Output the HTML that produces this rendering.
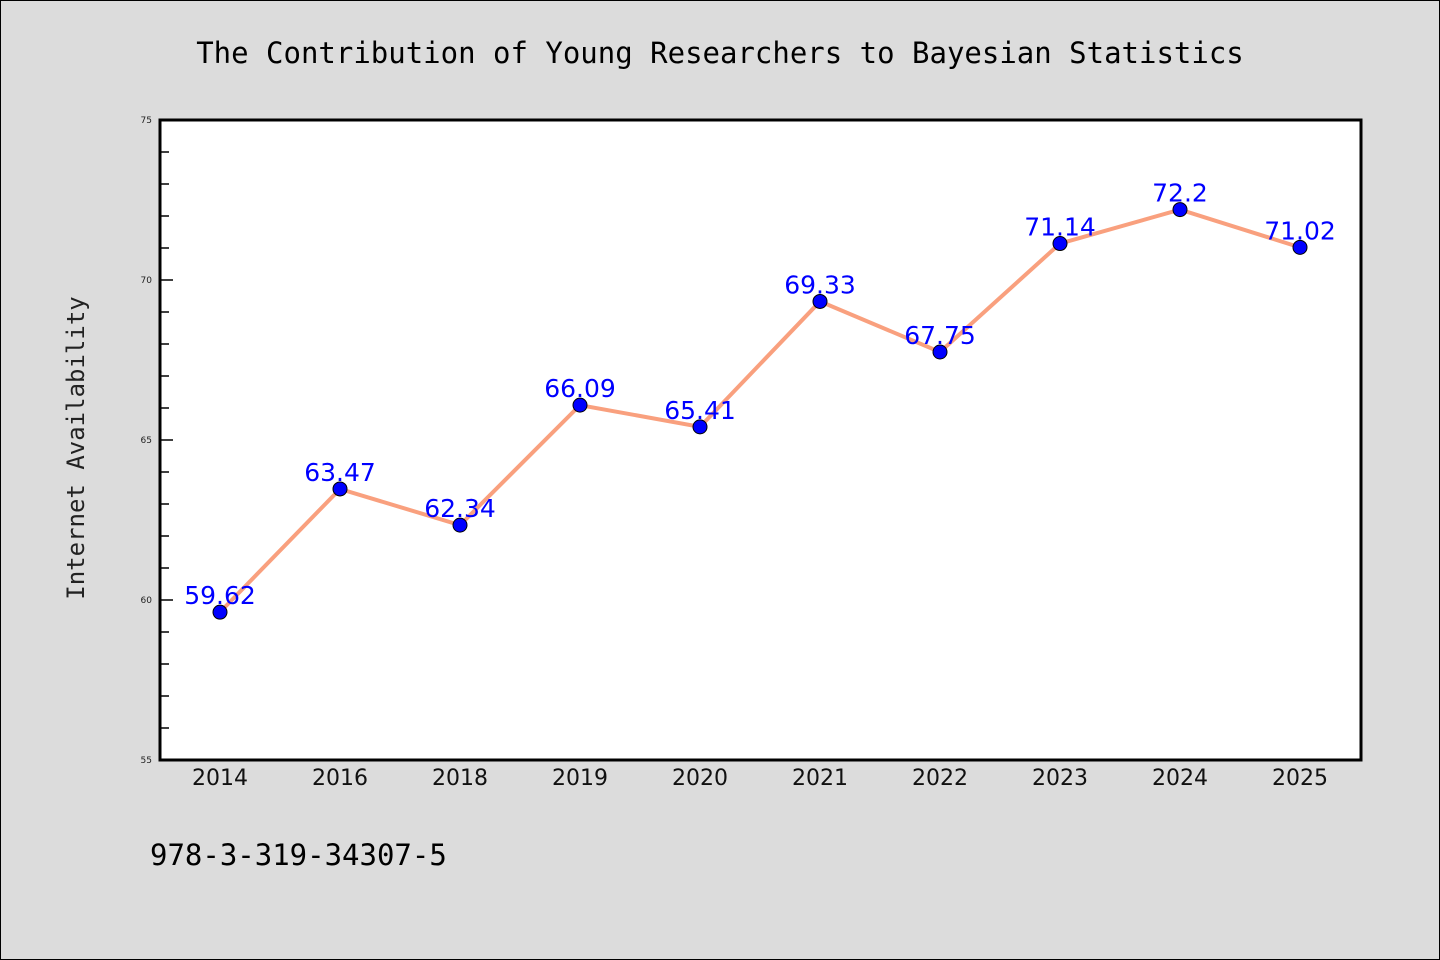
<!DOCTYPE html>
<html><head><meta charset="utf-8"><style>
body{margin:0;background:#dcdcdc;}
svg{display:block;}
</style></head><body>
<svg id="chart" width="1440" height="960" xmlns="http://www.w3.org/2000/svg">
<rect x="0.5" y="0.5" width="1439" height="959" fill="#dcdcdc" stroke="#000" stroke-width="1"/>
<text x="720" y="63" text-anchor="middle" font-family="'DejaVu Sans Mono','Liberation Mono',monospace" font-size="29" fill="#000">The Contribution of Young Researchers to Bayesian Statistics</text>
<rect x="160" y="120" width="1201" height="640" fill="#fff"/>
<g id="ticks"></g>
<g id="xlabels"></g>
<text transform="translate(84,448) rotate(-90)" text-anchor="middle" font-family="'DejaVu Sans Mono','Liberation Mono',monospace" font-size="24" fill="#222">Internet Availability</text>
<path id="line" fill="none" stroke="#f9a07e" stroke-width="4"/>
<g id="points"></g>
<rect x="160" y="120" width="1201" height="640" fill="none" stroke="#000" stroke-width="3"/>
<text x="150" y="865" font-family="'DejaVu Sans Mono','Liberation Mono',monospace" font-size="29" fill="#000">978-3-319-34307-5</text>
</svg>
<script>
const categories=["2014","2016","2018","2019","2020","2021","2022","2023","2024","2025"];
const values=[59.62,63.47,62.34,66.09,65.41,69.33,67.75,71.14,72.2,71.02];
const yTicks=[55,60,65,70,75];
const ns="http://www.w3.org/2000/svg";
const x0=160,x1=1360,y0=760,y1=120,yMin=55,yMax=75;
const xS=i=>x0+(i+0.5)*(x1-x0)/categories.length;
const yS=v=>y0-(v-yMin)/(yMax-yMin)*(y0-y1);
function mk(t,a,p){const e=document.createElementNS(ns,t);for(const k in a)e.setAttribute(k,a[k]);p.appendChild(e);return e;}
const tg=document.getElementById('ticks');
for(let v=yMin;v<=yMax;v++){
 const major=(v%5===0);
 if(v!==yMin&&v!==yMax){const l=mk('line',{x1:160,x2:major?173:169,y1:yS(v),y2:yS(v),stroke:'#000','stroke-width':1.5},tg);
 
 }
}
yTicks.forEach(v=>{const t=mk('text',{x:152,y:yS(v)+3,'text-anchor':'end','font-family':'DejaVu Sans,sans-serif','font-size':9,fill:'#222'},tg);t.textContent=v;
 
 });
const xg=document.getElementById('xlabels');
categories.forEach((c,i)=>{const t=mk('text',{x:xS(i),y:785,'text-anchor':'middle','font-family':'DejaVu Sans,sans-serif','font-size':22,fill:'#111'},xg);t.textContent=c;
 
 });
document.getElementById('line').setAttribute('d',values.map((v,i)=>(i?'L':'M')+xS(i)+','+yS(v)).join(' '));
const pg=document.getElementById('points');
values.forEach((v,i)=>{const c=mk('circle',{cx:xS(i),cy:yS(v),r:7,fill:'#0000ff',stroke:'#000','stroke-width':1},pg);
 
 
 const t=mk('text',{x:xS(i),y:yS(v)-8,'text-anchor':'middle','font-family':'DejaVu Sans,sans-serif','font-size':25,fill:'#0000ff'},pg);t.textContent=v;
 
 });
</script>
</body></html>
